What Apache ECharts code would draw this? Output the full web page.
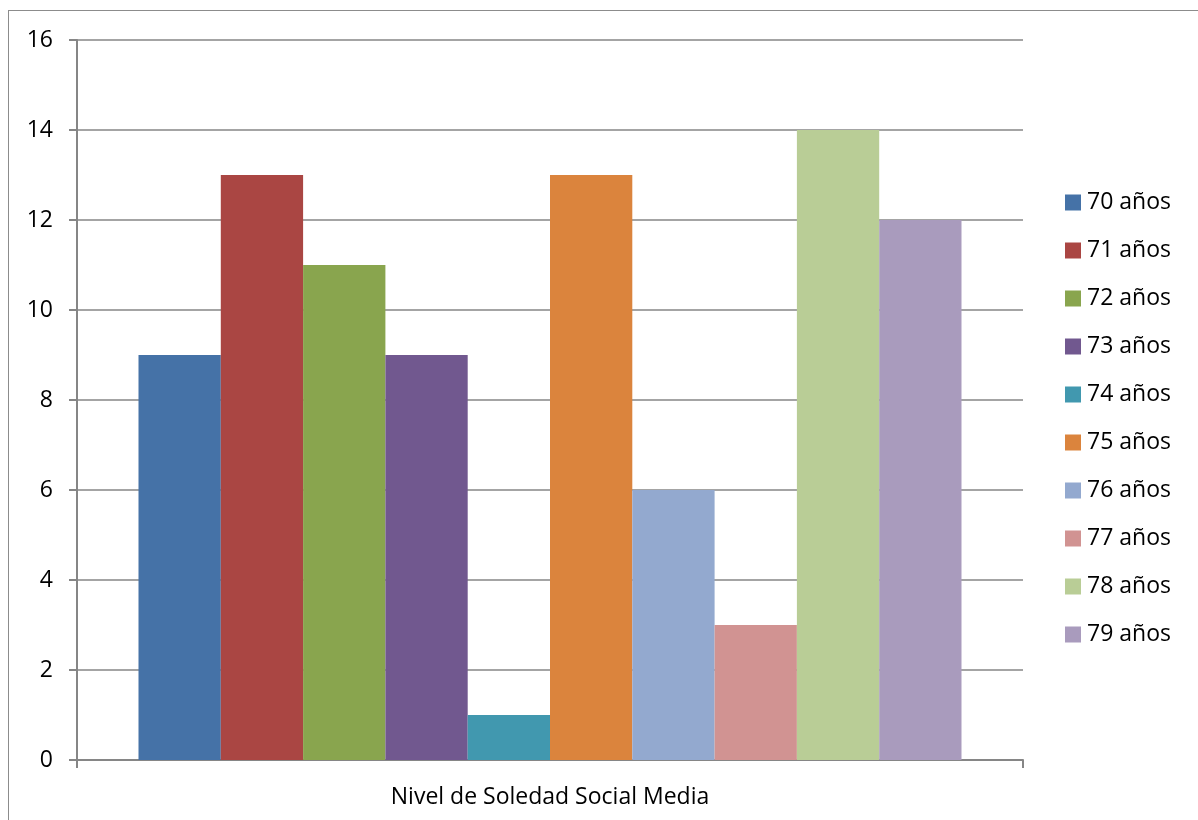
<!DOCTYPE html>
<html>
<head>
<meta charset="utf-8">
<script src="https://cdn.jsdelivr.net/npm/echarts@6/dist/echarts.min.js"></script>
<style>
  html, body { margin: 0; padding: 0; background: #fff; }
  #frame { position: absolute; left: 8px; top: 10px; width: 1300px; height: 900px; border: 1px solid #8c8c8c; }
  #chart { position: absolute; left: 0; top: 0; width: 1198px; height: 820px; }
</style>
</head>
<body>
<div id="frame"></div>
<div id="chart"></div>
<script>
const categories = ['Nivel de Soledad Social Media']
const seriesNames = ['70 años', '71 años', '72 años', '73 años', '74 años', '75 años', '76 años', '77 años', '78 años', '79 años']
const seriesValues = [9, 13, 11, 9, 1, 13, 6, 3, 14, 12]
const colors = ['#4572A7', '#AA4643', '#89A54E', '#71588F', '#4198AF', '#DB843D', '#93A9CF', '#D19392', '#B9CD96', '#A99BBD']

const font = '"Open Sans", Lato, sans-serif'
const chart = echarts.init(document.getElementById('chart'))
chart.setOption({
  animation: false,
  color: colors,
  grid: { left: 77, right: 175, top: 40, bottom: 60, containLabel: false },
  legend: {
    orient: 'vertical',
    left: 1065,
    top: 191,
    padding: 0,
    itemWidth: 16,
    itemHeight: 16,
    itemGap: 25,
    icon: 'rect',
    textStyle: { fontFamily: font, fontSize: 23, color: '#000', lineHeight: 23, padding: [0, 0, 0, 1] },
    data: seriesNames
  },
  xAxis: {
    type: 'category',
    data: categories,
    axisLine: { lineStyle: { color: '#868686', width: 2 } },
    axisTick: { show: true, length: 8, lineStyle: { color: '#868686', width: 2 } },
    axisLabel: { fontFamily: font, fontSize: 23, color: '#000', margin: 26 }
  },
  yAxis: {
    type: 'value',
    min: 0,
    max: 16,
    interval: 2,
    axisLine: { show: true, lineStyle: { color: '#868686', width: 2 } },
    axisTick: { show: true, length: 8, lineStyle: { color: '#868686', width: 2 } },
    splitLine: { lineStyle: { color: '#868686', width: 1.5 } },
    axisLabel: { fontFamily: font, fontSize: 23, color: '#000', margin: 24 }
  },
  series: seriesNames.map((name, i) => ({
    name: name,
    type: 'bar',
    barWidth: 82.3,
    barGap: '0%',
    data: [seriesValues[i]]
  }))
})
</script>
</body>
</html>
